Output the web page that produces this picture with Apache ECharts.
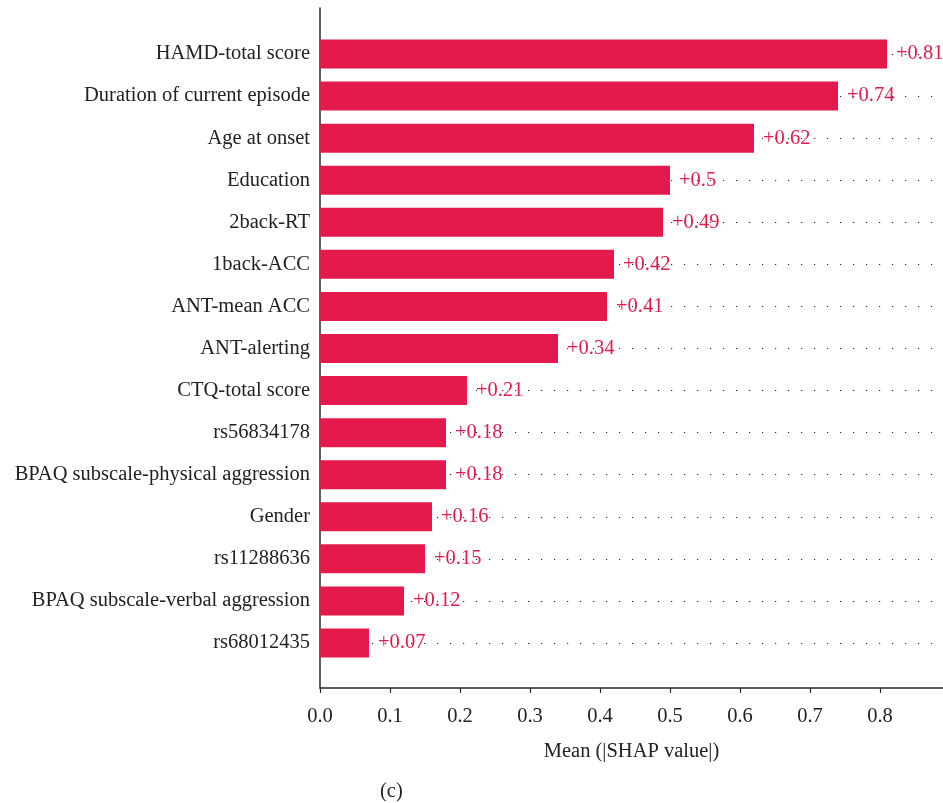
<!DOCTYPE html>
<html>
<head>
<meta charset="utf-8">
<script src="https://cdn.jsdelivr.net/npm/echarts@6/dist/echarts.min.js"></script>
<style>
  html, body { margin: 0; padding: 0; background: #fff; }
  #chart { width: 943px; height: 803px; }
</style>
</head>
<body>
<div id="chart"></div>
<script>
// Feature names, most important first
const features = [
  'HAMD-total score',
  'Duration of current episode',
  'Age at onset',
  'Education',
  '2back-RT',
  '1back-ACC',
  'ANT-mean ACC',
  'ANT-alerting',
  'CTQ-total score',
  'rs56834178',
  'BPAQ subscale-physical aggression',
  'Gender',
  'rs11288636',
  'BPAQ subscale-verbal aggression',
  'rs68012435'
];

// Mean |SHAP| per feature
const meanAbsShap = [0.81, 0.74, 0.62, 0.5, 0.49, 0.42, 0.41, 0.34, 0.21, 0.18, 0.18, 0.16, 0.15, 0.12, 0.07];

// Tick positions on the value axis
const xTicks = [0.0, 0.1, 0.2, 0.3, 0.4, 0.5, 0.6, 0.7, 0.8];
const xMax = 0.89;

const RED = '#e31a4b';
const FONT = '"Liberation Serif", "DejaVu Serif", serif';
const FS = 20.5;

const chart = echarts.init(document.getElementById('chart'), null, { renderer: 'canvas' });

chart.setOption({
  animation: false,
  backgroundColor: '#fff',
  textStyle: { fontFamily: FONT },
  title: {
    text: '(c)',
    left: 375,
    top: 776,
    textStyle: { fontFamily: FONT, fontSize: FS, fontWeight: 'normal', color: '#222' }
  },
  grid: [
    // rows of bars
    { left: 320, right: 0, top: 33, bottom: 139 },
    // frame with the visible axes (slightly taller than the rows)
    { left: 320, right: 0, top: 8, bottom: 115 }
  ],
  xAxis: [
    {
      gridIndex: 0,
      type: 'value',
      min: 0,
      max: xMax,
      show: false
    },
    {
      gridIndex: 1,
      type: 'value',
      min: 0,
      max: xMax,
      name: 'Mean (|SHAP value|)',
      nameLocation: 'middle',
      nameGap: 53,
      nameTextStyle: { fontFamily: FONT, fontSize: FS, color: '#222' },
      axisLine: { show: true, onZero: false, lineStyle: { color: '#2a2a2a', width: 1.5 } },
      axisTick: { show: true, length: 5, customValues: xTicks, lineStyle: { color: '#2a2a2a', width: 1.2 } },
      axisLabel: {
        customValues: xTicks,
        margin: 18,
        fontFamily: FONT,
        fontSize: FS,
        color: '#222',
        formatter: v => v.toFixed(1)
      },
      splitLine: { show: false }
    }
  ],
  yAxis: [
    {
      gridIndex: 0,
      type: 'category',
      inverse: true,
      data: features,
      axisLine: { show: false },
      axisTick: { show: false },
      axisLabel: { margin: 10, fontFamily: FONT, fontSize: FS, color: '#222' },
      splitLine: { show: false }
    },
    {
      gridIndex: 1,
      type: 'value',
      min: 0,
      max: 1,
      axisLine: { show: true, lineStyle: { color: '#2a2a2a', width: 1.5 } },
      axisTick: { show: false },
      axisLabel: { show: false },
      splitLine: { show: false }
    }
  ],
  series: [
    {
      // dotted guide line through every row, behind the bars
      name: 'guides',
      type: 'line',
      xAxisIndex: 0,
      yAxisIndex: 0,
      data: [],
      z: 0,
      markLine: {
        z: 0,
        silent: true,
        symbol: ['none', 'none'],
        label: { show: false },
        lineStyle: { color: '#222', width: 1, type: [1.2, 11.8] },
        emphasis: { disabled: true },
        data: features.map(f => ({ yAxis: f }))
      }
    },
    {
      name: 'Mean |SHAP|',
      type: 'bar',
      xAxisIndex: 0,
      yAxisIndex: 0,
      z: 3,
      data: meanAbsShap,
      barWidth: 29,
      itemStyle: { color: RED },
      label: {
        show: true,
        position: 'right',
        distance: 9,
        fontFamily: FONT,
        fontSize: FS,
        color: RED,
        formatter: p => '+' + p.value
      }
    }
  ]
});
</script>
</body>
</html>
